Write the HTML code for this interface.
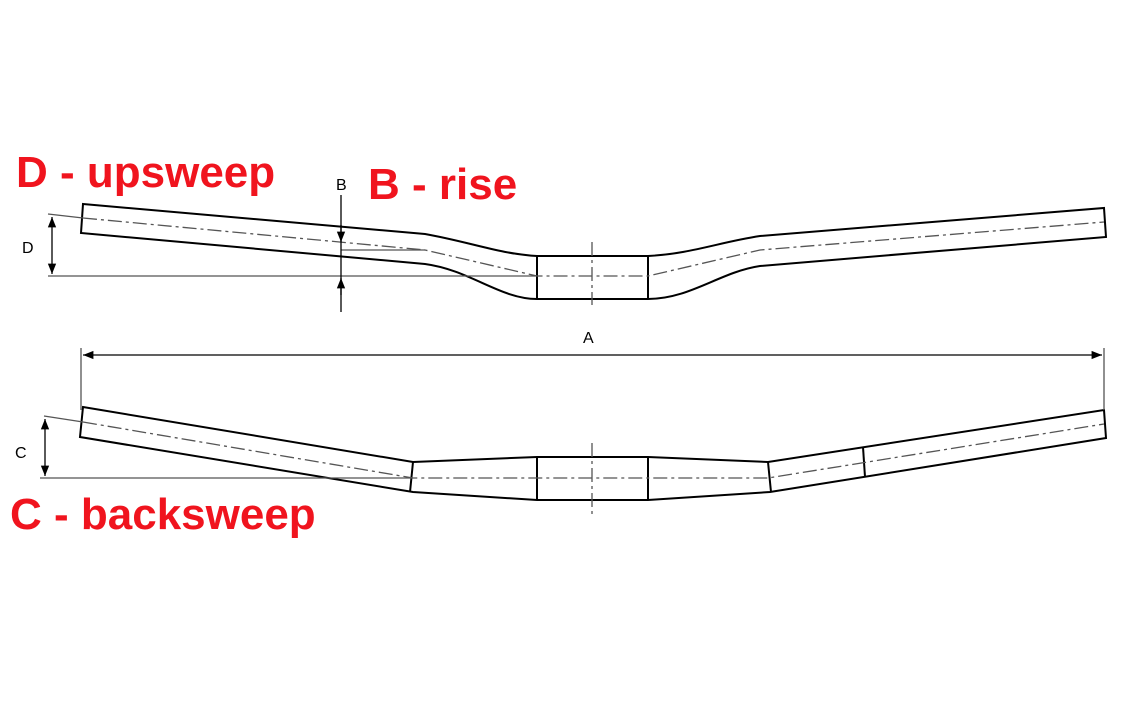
<!DOCTYPE html>
<html><head><style>body{margin:0;background:#fff}svg{display:block}</style></head><body>
<svg width="1134" height="709" viewBox="0 0 1134 709" xmlns="http://www.w3.org/2000/svg" font-family="Liberation Sans, sans-serif">
<defs><marker id="ar" viewBox="0 0 10 10" refX="10" refY="5" markerWidth="8" markerHeight="10" orient="auto-start-reverse"><path d="M0,1 L10,5 L0,9 z" fill="#000"/></marker></defs>
<g fill="none" stroke="#000" stroke-width="2">
<path d="M83,204 L425,234 C470,242 500,254 537,256 L648,256 C690,254 720,242 760,236 L1104,208 L1106,237 L760,266 C720,272 690,299 648,299 L537,299 C500,299 470,270 425,264 L81,233 Z"/>
<line x1="537" y1="256" x2="537" y2="299"/><line x1="648" y1="256" x2="648" y2="299"/>
<path d="M83,407 L413,462 L537,457 L648,457 L768,462 L1104,410 L1106,438 L770,492 L648,500 L537,500 L413,492 L80,437 Z"/>
<line x1="413" y1="462" x2="410" y2="492"/><line x1="537" y1="457" x2="537" y2="500"/><line x1="648" y1="457" x2="648" y2="500"/><line x1="768" y1="462" x2="771" y2="492"/><line x1="863" y1="447" x2="865" y2="477"/>
</g>
<g fill="none" stroke="#555" stroke-width="1.3">
<path d="M83,218 L425,250 L537,276 L648,276 L760,250 L1104,222" stroke-dasharray="14,4,3,4"/>
<path d="M83,422 L413,478 L768,478 L1104,424" stroke-dasharray="14,4,3,4"/>
<line x1="592" y1="242" x2="592" y2="305" stroke-dasharray="14,4,3,4"/>
<line x1="592" y1="443" x2="592" y2="515" stroke-dasharray="14,4,3,4"/>
<line x1="48" y1="214" x2="83" y2="218"/><line x1="48" y1="276" x2="537" y2="276"/>
<line x1="341" y1="250" x2="425" y2="250"/>
<line x1="44" y1="416" x2="83" y2="422"/><line x1="40" y1="478" x2="413" y2="478"/>
<line x1="81" y1="348" x2="81" y2="410"/><line x1="1104" y1="348" x2="1104" y2="410"/>
</g>
<g stroke="#000" stroke-width="1.3" fill="none">
<line x1="52" y1="217" x2="52" y2="274" marker-start="url(#ar)" marker-end="url(#ar)"/>
<line x1="45" y1="419" x2="45" y2="476" marker-start="url(#ar)" marker-end="url(#ar)"/>
<line x1="83" y1="355" x2="1102" y2="355" marker-start="url(#ar)" marker-end="url(#ar)"/>
<line x1="341" y1="195" x2="341" y2="312"/>
<line x1="341" y1="225" x2="341" y2="242" marker-end="url(#ar)"/>
<line x1="341" y1="295" x2="341" y2="278" marker-end="url(#ar)"/>
</g>
<g font-size="16" fill="#000">
<text x="336" y="190">B</text><text x="22" y="253">D</text><text x="15" y="458">C</text><text x="583" y="343">A</text>
</g>
<g font-size="44" font-weight="bold" fill="#f0141e">
<text x="16" y="187">D - upsweep</text>
<text x="368" y="199">B - rise</text>
<text x="10" y="529">C - backsweep</text>
</g>
</svg>
</body></html>
